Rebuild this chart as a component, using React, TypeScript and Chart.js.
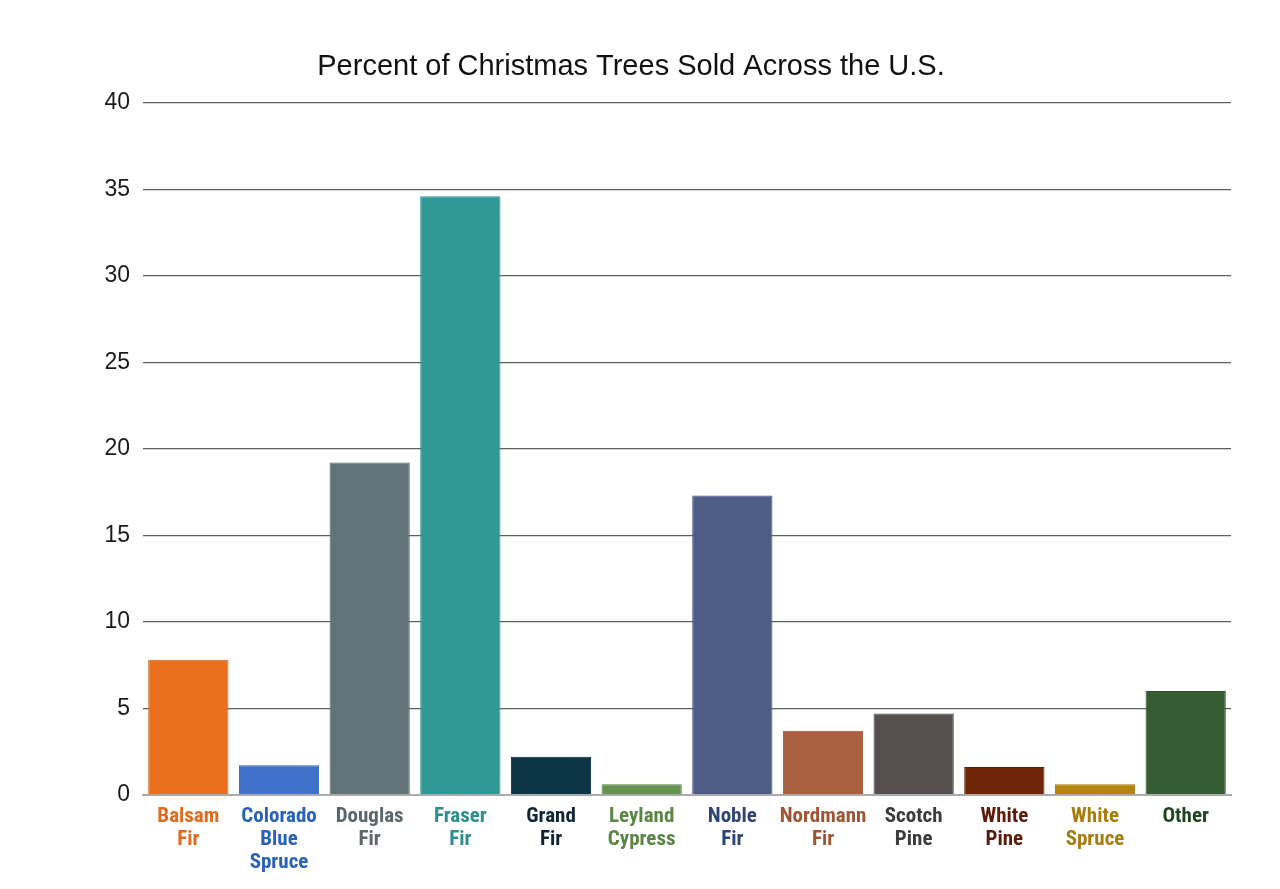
import React, { useEffect, useRef } from "react";
import { Chart, registerables } from "chart.js";

Chart.register(...registerables);

const categories: string[][] = [
  ["Balsam", "Fir"],
  ["Colorado", "Blue", "Spruce"],
  ["Douglas", "Fir"],
  ["Fraser", "Fir"],
  ["Grand", "Fir"],
  ["Leyland", "Cypress"],
  ["Noble", "Fir"],
  ["Nordmann", "Fir"],
  ["Scotch", "Pine"],
  ["White", "Pine"],
  ["White", "Spruce"],
  ["Other"],
];

const percentSold: number[] = [7.8, 1.7, 19.2, 34.6, 2.2, 0.6, 17.3, 3.7, 4.7, 1.6, 0.6, 6.0];

const barColors: string[] = [
  "#E8701E", "#3F72C8", "#617378", "#309896", "#0C3545", "#65924E",
  "#4C5D86", "#A95F40", "#55504E", "#6E2508", "#B5840F", "#355C32",
];

const borderColors: string[] = [
  "#D4641A", "#2F60B0", "#55666B", "#2A8886", "#082A38", "#588442",
  "#3F5078", "#995236", "#474240", "#5E1E06", "#A3760C", "#2B4E28",
];

const labelColors: string[] = [
  "#E06A1D", "#2960B8", "#5A676C", "#2E8E8B", "#0E2533", "#5A8542",
  "#2E4474", "#9E5535", "#3C3A3A", "#5C1A0A", "#A87C0C", "#1F4420",
];

const yTicks: number[] = [0, 5, 10, 15, 20, 25, 30, 35, 40];

const titleText = "Percent of Christmas Trees Sold Across the U.S.";

export default function App() {
  const canvasRef = useRef<HTMLCanvasElement | null>(null);

  useEffect(() => {
    if (!canvasRef.current) return;
    const chart = new Chart(canvasRef.current, {
      type: "bar",
      data: {
        labels: categories,
        datasets: [
          {
            data: percentSold,
            backgroundColor: barColors,
            borderColor: borderColors,
            borderWidth: 1,
            barPercentage: 0.885,
            categoryPercentage: 1.0,
          },
        ],
      },
      options: {
        animation: false,
        responsive: true,
        maintainAspectRatio: false,
        layout: { padding: { left: 23, right: 41, top: 42, bottom: 0 } },
        plugins: {
          legend: { display: false },
          tooltip: { enabled: false },
          title: {
            display: true,
            text: titleText,
            color: "#111",
            font: { family: "'Liberation Sans', Arial, sans-serif", size: 29, weight: "normal", lineHeight: 1.2 },
            padding: { top: 0, bottom: 18 },
          },
        },
        scales: {
          x: {
            grid: { display: false, drawTicks: false },
            border: { display: true, color: "#aaaaaa", width: 2 },
            ticks: {
              color: labelColors,
              font: {
                family: "'Roboto Condensed', 'Liberation Sans Narrow', 'Arial Narrow', Roboto, sans-serif",
                size: 21,
                weight: "bold",
                lineHeight: 1.1,
              },
              padding: 10,
              maxRotation: 0,
              autoSkip: false,
            },
          },
          y: {
            min: 0,
            max: 40,
            afterBuildTicks: (axis: any) => {
              axis.ticks = yTicks.map((v) => ({ value: v }));
            },
            afterFit: (axis: any) => {
              axis.width = 112;
            },
            grid: { color: "#5f5f5f", lineWidth: 1.3, drawTicks: false },
            border: { display: false },
            ticks: {
              color: "#1a1a1a",
              font: { family: "'Liberation Sans', Arial, sans-serif", size: 23 },
              padding: 13,
            },
          },
        },
      },
    });
    return () => chart.destroy();
  }, []);

  return (
    <div style={{ width: 1264, height: 876, position: "relative" }}>
      <canvas ref={canvasRef} />
    </div>
  );
}
